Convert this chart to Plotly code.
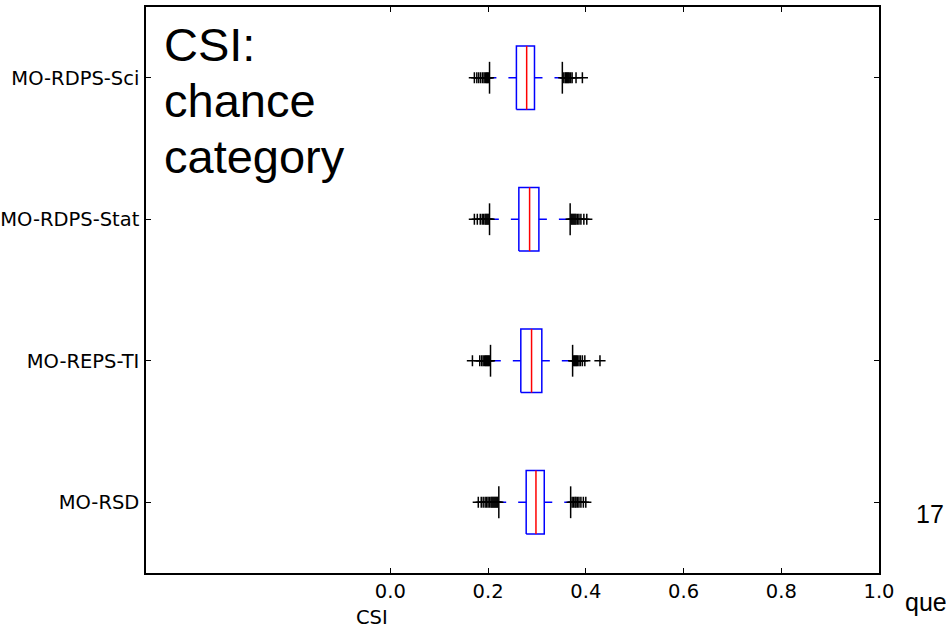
import plotly.graph_objects as go

# ---- data ----
categories = ["MO-RSD", "MO-REPS-TI", "MO-RDPS-Stat", "MO-RDPS-Sci"]
positions = [1, 2, 3, 4]
q1_vals = [0.278, 0.267, 0.263, 0.258]
median_vals = [0.298, 0.289, 0.285, 0.279]
q3_vals = [0.315, 0.310, 0.304, 0.295]
low_whisker = [0.222, 0.205, 0.203, 0.203]
high_whisker = [0.369, 0.373, 0.368, 0.352]

outliers_low = [
    [0.180, 0.186, 0.190, 0.194, 0.197, 0.200, 0.203, 0.206, 0.208, 0.210, 0.212, 0.214, 0.216, 0.218, 0.220],
    [0.168, 0.183, 0.187, 0.190, 0.193, 0.195, 0.197, 0.199, 0.201, 0.203],
    [0.172, 0.178, 0.184, 0.188, 0.191, 0.194, 0.196, 0.198, 0.200, 0.202],
    [0.172, 0.177, 0.181, 0.185, 0.189, 0.192, 0.195, 0.197, 0.199, 0.201],
]
outliers_high = [
    [0.372, 0.375, 0.378, 0.380, 0.383, 0.386, 0.390, 0.395, 0.400],
    [0.375, 0.377, 0.379, 0.381, 0.383, 0.386, 0.389, 0.393, 0.398, 0.429],
    [0.370, 0.372, 0.374, 0.376, 0.378, 0.380, 0.383, 0.386, 0.390, 0.396, 0.402],
    [0.355, 0.358, 0.360, 0.362, 0.364, 0.366, 0.369, 0.372, 0.380, 0.393],
]
x_ticks = [0.0, 0.2, 0.4, 0.6, 0.8, 1.0]
overlay_lines = ["CSI:", "chance", "category"]

BOX_W = 0.45
BLUE = "#0000ff"
RED = "#ff0000"
TICK_FONT = dict(family="DejaVu Sans", size=19.5, color="black")

fig = go.Figure()

bx, by, wx, wy, cx, cy, mx, my = [], [], [], [], [], [], [], []
for p, a, b, lo, hi, m in zip(positions, q1_vals, q3_vals, low_whisker, high_whisker, median_vals):
    h = BOX_W / 2
    bx += [a, b, b, a, a, None]
    by += [p - h, p - h, p + h, p + h, p - h, None]
    wx += [a, lo, None, b, hi, None]
    wy += [p, p, None, p, p, None]
    cx += [lo, lo, None, hi, hi, None]
    cy += [p - h / 2, p + h / 2, None, p - h / 2, p + h / 2, None]
    mx += [m, m, None]
    my += [p - h, p + h, None]

# whiskers (dashed)
fig.add_trace(go.Scatter(x=wx, y=wy, mode="lines",
                         line=dict(color=BLUE, width=1.5, dash="8px,12px"),
                         showlegend=False, hoverinfo="skip"))
# box bodies
fig.add_trace(go.Scatter(x=bx, y=by, mode="lines",
                         line=dict(color=BLUE, width=1.5),
                         showlegend=False, hoverinfo="skip"))
# caps
fig.add_trace(go.Scatter(x=cx, y=cy, mode="lines",
                         line=dict(color="black", width=1.5),
                         showlegend=False, hoverinfo="skip"))
# medians
fig.add_trace(go.Scatter(x=mx, y=my, mode="lines",
                         line=dict(color=RED, width=1.5),
                         showlegend=False, hoverinfo="skip"))

# outliers
ox, oy = [], []
for p, lo_list, hi_list in zip(positions, outliers_low, outliers_high):
    for v in lo_list + hi_list:
        ox.append(v)
        oy.append(p)
fig.add_trace(go.Scatter(x=ox, y=oy, mode="markers",
                         marker=dict(symbol="cross-thin", size=8,
                                     line=dict(color="black", width=1.5)),
                         showlegend=False, hoverinfo="skip"))

annotations = [
    dict(text="CSI", xref="paper", yref="paper",
         x=(372 - 146) / 733, y=(573 - 617) / 566,
         xanchor="center", yanchor="middle", showarrow=False,
         font=TICK_FONT),
    dict(text="17", xref="paper", yref="paper",
         x=(930 - 146) / 733, y=(573 - 514) / 566,
         xanchor="center", yanchor="middle", showarrow=False,
         font=dict(family="Liberation Sans", size=25, color="black")),
    dict(text="que", xref="paper", yref="paper",
         x=(903 - 146) / 733, y=(573 - 602) / 566,
         xanchor="left", yanchor="middle", showarrow=False,
         font=dict(family="Liberation Sans", size=25, color="black")),
]
for i, line in enumerate(overlay_lines):
    annotations.append(dict(
        text=line, xref="paper", yref="paper",
        x=(162 - 146) / 733, y=(573 - (16 + 56 * i)) / 566,
        xanchor="left", yanchor="top", showarrow=False,
        font=dict(family="Liberation Sans", size=47, color="black")))

fig.update_layout(
    width=946, height=629,
    margin=dict(l=146, r=67, t=7, b=56, autoexpand=False),
    paper_bgcolor="white", plot_bgcolor="white",
    xaxis=dict(range=[-0.5, 1.0], tickvals=x_ticks,
               ticktext=[f"{v:.1f}" for v in x_ticks],
               ticks="inside", ticklen=5, tickcolor="black",
               showline=True, linecolor="black", linewidth=1.5, mirror="ticks",
               showgrid=False, zeroline=False, tickfont=TICK_FONT,
               automargin=False),
    yaxis=dict(range=[0.5, 4.5], tickvals=positions, ticktext=categories,
               ticks="inside", ticklen=5, tickcolor="black",
               showline=True, linecolor="black", linewidth=1.5, mirror="ticks",
               showgrid=False, zeroline=False, tickfont=TICK_FONT,
               ticklabelstandoff=1, automargin=False),
    annotations=annotations,
)

fig.write_html("out.html", config={"displayModeBar": False},
               post_script="document.body.style.margin='0';document.body.style.overflow='hidden';")
